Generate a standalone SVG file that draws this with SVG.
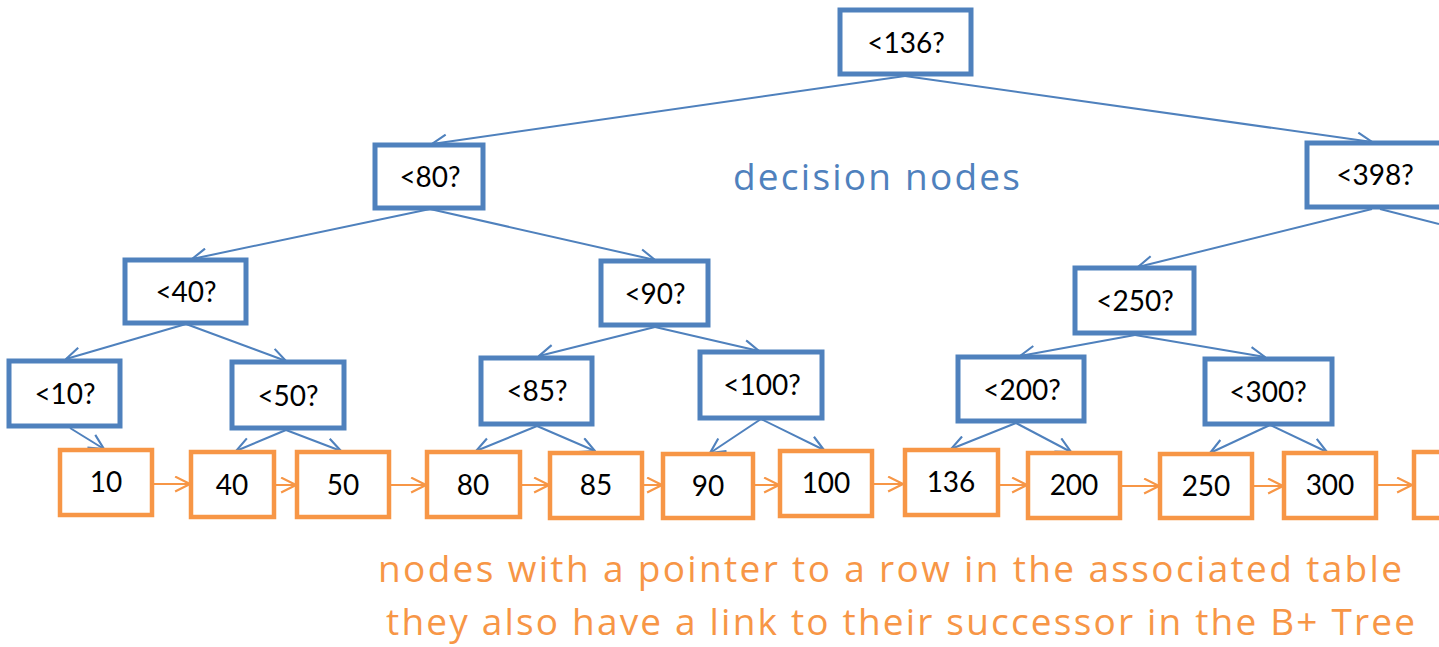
<svg xmlns="http://www.w3.org/2000/svg" width="1439" height="647" viewBox="0 0 1439 647">
<style>
.d rect{fill:#fff;stroke:#4F81BD;stroke-width:5}
.l rect{fill:#fff;stroke:#F79646;stroke-width:4.5}
.t{font-family:Lato,"Liberation Sans",sans-serif;font-size:28px;fill:#000;text-anchor:middle}
.bc{stroke:#4F81BD;stroke-width:2;fill:none;marker-end:url(#ab)}
.oc{stroke:#F79646;stroke-width:2;fill:none;marker-end:url(#ao)}
.cap{font-family:"Open Sans","Liberation Sans",sans-serif;font-size:37px}
</style>
<defs>
<marker id="ab" viewBox="0 0 16 16" refX="15" refY="8" markerWidth="17" markerHeight="17" markerUnits="userSpaceOnUse" orient="auto"><path d="M1,1 L15,8 L1,15" fill="none" stroke="#4F81BD" stroke-width="2"/></marker>
<marker id="ao" viewBox="0 0 16 16" refX="15" refY="8" markerWidth="17" markerHeight="17" markerUnits="userSpaceOnUse" orient="auto"><path d="M1,1 L15,8 L1,15" fill="none" stroke="#F79646" stroke-width="2"/></marker>
</defs>
<rect width="1439" height="647" fill="#fff"/>
<g id="connectors">
<path class="bc" d="M905,76 L432,144"/>
<path class="bc" d="M905,76 L1372,142"/>
<path class="bc" d="M1380,209 L1439,224" style="marker-end:none"/>
<path class="bc" d="M430,209 L192,259"/>
<path class="bc" d="M430,209 L655,260"/>
<path class="bc" d="M1372,209 L1138,267"/>
<path class="bc" d="M186,324 L66,359"/>
<path class="bc" d="M186,324 L286,361"/>
<path class="bc" d="M655,327 L539,356"/>
<path class="bc" d="M655,327 L759,351"/>
<path class="bc" d="M1135,335 L1020,356"/>
<path class="bc" d="M1135,335 L1265,357"/>
<path class="bc" d="M70,428 L104,449"/>
<path class="bc" d="M286,430 L236,451"/>
<path class="bc" d="M286,430 L341,451"/>
<path class="bc" d="M537,426 L476,451"/>
<path class="bc" d="M537,426 L595,451"/>
<path class="bc" d="M761,419 L710,453"/>
<path class="bc" d="M761,419 L824,450"/>
<path class="bc" d="M1016,423 L951,449"/>
<path class="bc" d="M1016,423 L1071,452"/>
<path class="bc" d="M1270,425 L1210,453"/>
<path class="bc" d="M1270,425 L1327,452"/>
<path class="oc" d="M153,484 L190,484"/>
<path class="oc" d="M275,485 L296,485"/>
<path class="oc" d="M389,485 L426,485"/>
<path class="oc" d="M520,485 L549,485"/>
<path class="oc" d="M643,485 L662,485"/>
<path class="oc" d="M754,485 L779,485"/>
<path class="oc" d="M873,484 L903,484"/>
<path class="oc" d="M999,485 L1027,485"/>
<path class="oc" d="M1121,486 L1159,486"/>
<path class="oc" d="M1253,486 L1283,486"/>
<path class="oc" d="M1376,485 L1412,485"/>
</g>
<g id="n136" class="d"><rect x="840" y="10" width="131" height="64"/><text class="t" x="906" y="53">&lt;136?</text></g>
<g id="n80" class="d"><rect x="375" y="145" width="108" height="63"/><text class="t" x="430" y="187">&lt;80?</text></g>
<g id="n398" class="d"><rect x="1307" y="143" width="140" height="64"/><text class="t" x="1375" y="185">&lt;398?</text></g>
<g id="n40" class="d"><rect x="125" y="260" width="121" height="63"/><text class="t" x="186" y="302">&lt;40?</text></g>
<g id="n90" class="d"><rect x="601" y="261" width="107" height="64"/><text class="t" x="655" y="304">&lt;90?</text></g>
<g id="n250" class="d"><rect x="1075" y="268" width="119" height="65"/><text class="t" x="1135" y="311">&lt;250?</text></g>
<g id="n10" class="d"><rect x="9" y="361" width="111" height="65"/><text class="t" x="65" y="404">&lt;10?</text></g>
<g id="n50" class="d"><rect x="232" y="362" width="112" height="66"/><text class="t" x="288" y="406">&lt;50?</text></g>
<g id="n85" class="d"><rect x="481" y="358" width="111" height="66"/><text class="t" x="537" y="401">&lt;85?</text></g>
<g id="n100" class="d"><rect x="700" y="352" width="122" height="66"/><text class="t" x="762" y="395">&lt;100?</text></g>
<g id="n200" class="d"><rect x="958" y="357" width="126" height="64"/><text class="t" x="1022" y="400">&lt;200?</text></g>
<g id="n300" class="d"><rect x="1205" y="359" width="127" height="65"/><text class="t" x="1268" y="402">&lt;300?</text></g>
<g id="l10" class="l"><rect x="60" y="450" width="92" height="65"/><text class="t" x="106" y="492">10</text></g>
<g id="l40" class="l"><rect x="191" y="452" width="83" height="65"/><text class="t" x="232" y="495">40</text></g>
<g id="l50" class="l"><rect x="297" y="452" width="92" height="65"/><text class="t" x="343" y="495">50</text></g>
<g id="l80" class="l"><rect x="427" y="452" width="93" height="65"/><text class="t" x="473" y="495">80</text></g>
<g id="l85" class="l"><rect x="550" y="453" width="92" height="65"/><text class="t" x="596" y="495">85</text></g>
<g id="l90" class="l"><rect x="663" y="454" width="90" height="64"/><text class="t" x="708" y="496">90</text></g>
<g id="l100" class="l"><rect x="780" y="451" width="92" height="65"/><text class="t" x="826" y="493">100</text></g>
<g id="l136" class="l"><rect x="905" y="450" width="93" height="65"/><text class="t" x="951" y="492">136</text></g>
<g id="l200" class="l"><rect x="1028" y="453" width="92" height="65"/><text class="t" x="1074" y="495">200</text></g>
<g id="l250" class="l"><rect x="1160" y="454" width="92" height="64"/><text class="t" x="1206" y="496">250</text></g>
<g id="l300" class="l"><rect x="1284" y="453" width="92" height="65"/><text class="t" x="1330" y="495">300</text></g>
<g id="lnext" class="l"><rect x="1414" y="452" width="60" height="66"/></g>
<text class="cap" x="733" y="190" fill="#4F81BD" textLength="287" lengthAdjust="spacing">decision nodes</text>
<text class="cap" x="378" y="582" fill="#F79646" textLength="1024" lengthAdjust="spacing">nodes with a pointer to a row in the associated table</text>
<text class="cap" x="386" y="635" fill="#F79646" textLength="1029" lengthAdjust="spacing">they also have a link to their successor in the B+ Tree</text>
</svg>
